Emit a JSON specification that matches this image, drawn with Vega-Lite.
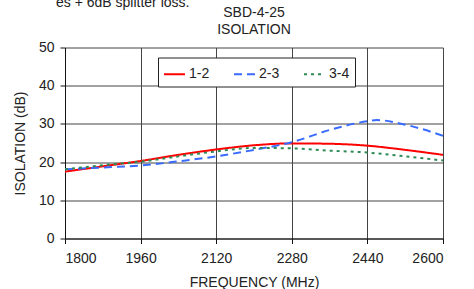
{
  "$schema": "https://vega.github.io/schema/vega-lite/v6.json",
  "padding": {"left": 13, "top": -4.5, "right": 5, "bottom": 0},
  "background": "white",
  "title": {"text": "es + 6dB splitter loss.", "anchor": "start", "frame": "group", "font": "Liberation Sans", "fontSize": 14, "fontWeight": "normal", "color": "#222", "dx": -9, "dy": -16.5, "offset": -20},
  "config": {
    "font": "Liberation Sans",
    "view": {"stroke": null},
    "axis": {"labelFont": "Liberation Sans", "titleFont": "Liberation Sans", "labelFontSize": 14, "titleFontSize": 14, "titleFontWeight": "normal", "labelColor": "#222", "titleColor": "#222", "gridColor": "#444", "gridOpacity": 1, "gridWidth": 1, "domainColor": "#111", "tickColor": "#111", "tickSize": 5}
  },
  "vconcat": [
    {
      "title": {"text": ["SBD-4-25", "ISOLATION"], "font": "Liberation Sans", "fontSize": 14, "fontWeight": "normal", "color": "#222", "anchor": "middle", "lineHeight": 17, "offset": 3.5},
      "width": 378,
      "height": 191,
      "data": {"values": [
        {"f": 1800, "v": 17.5, "s": "1-2"},
        {"f": 1880, "v": 18.9, "s": "1-2"},
        {"f": 1960, "v": 20.3, "s": "1-2"},
        {"f": 2040, "v": 21.9, "s": "1-2"},
        {"f": 2120, "v": 23.3, "s": "1-2"},
        {"f": 2200, "v": 24.4, "s": "1-2"},
        {"f": 2280, "v": 24.9, "s": "1-2"},
        {"f": 2360, "v": 24.8, "s": "1-2"},
        {"f": 2440, "v": 24.3, "s": "1-2"},
        {"f": 2520, "v": 23.2, "s": "1-2"},
        {"f": 2600, "v": 21.9, "s": "1-2"},
        {"f": 1800, "v": 18.1, "s": "2-3"},
        {"f": 1880, "v": 18.6, "s": "2-3"},
        {"f": 1960, "v": 19.1, "s": "2-3"},
        {"f": 2040, "v": 20.2, "s": "2-3"},
        {"f": 2120, "v": 21.5, "s": "2-3"},
        {"f": 2200, "v": 23.2, "s": "2-3"},
        {"f": 2280, "v": 25.2, "s": "2-3"},
        {"f": 2360, "v": 28.4, "s": "2-3"},
        {"f": 2440, "v": 30.7, "s": "2-3"},
        {"f": 2460, "v": 31.0, "s": "2-3"},
        {"f": 2520, "v": 29.8, "s": "2-3"},
        {"f": 2600, "v": 26.9, "s": "2-3"},
        {"f": 1800, "v": 18.1, "s": "3-4"},
        {"f": 1880, "v": 19.2, "s": "3-4"},
        {"f": 1960, "v": 20.1, "s": "3-4"},
        {"f": 2040, "v": 21.5, "s": "3-4"},
        {"f": 2120, "v": 22.8, "s": "3-4"},
        {"f": 2200, "v": 23.7, "s": "3-4"},
        {"f": 2280, "v": 23.6, "s": "3-4"},
        {"f": 2360, "v": 23.0, "s": "3-4"},
        {"f": 2440, "v": 22.5, "s": "3-4"},
        {"f": 2520, "v": 21.5, "s": "3-4"},
        {"f": 2600, "v": 20.4, "s": "3-4"}
      ]},
      "mark": {"type": "line", "interpolate": "monotone", "strokeWidth": 2, "clip": true},
      "encoding": {
        "x": {"field": "f", "type": "quantitative", "title": "FREQUENCY (MHz)", "scale": {"domain": [1800, 2600], "nice": false}, "axis": {"values": [1800, 1960, 2120, 2280, 2440, 2600], "format": "d", "labelPadding": 8, "titlePadding": 10, "grid": true}},
        "y": {"field": "v", "type": "quantitative", "title": "ISOLATION (dB)", "scale": {"domain": [0, 50]}, "axis": {"values": [0, 10, 20, 30, 40, 50], "format": "d", "labelPadding": 6, "titlePadding": 11, "grid": true}},
        "color": {"field": "s", "type": "nominal", "scale": {"domain": ["1-2", "2-3", "3-4"], "range": ["#ff0000", "#3a6bff", "#2e8b57"]}, "legend": {"title": null, "orient": "none", "legendX": 93, "legendY": 10, "direction": "horizontal", "strokeColor": "#222", "fillColor": "white", "padding": 5, "symbolType": "stroke", "symbolSize": 440, "symbolStrokeWidth": 2, "labelFontSize": 14, "labelColor": "#222", "labelFont": "Liberation Sans", "columnPadding": 20, "labelOffset": 3}},
        "strokeDash": {"field": "s", "type": "nominal", "scale": {"domain": ["1-2", "2-3", "3-4"], "range": [[1, 0], [8, 5], [3, 4]]}, "legend": null}
      }
    }
  ]
}
